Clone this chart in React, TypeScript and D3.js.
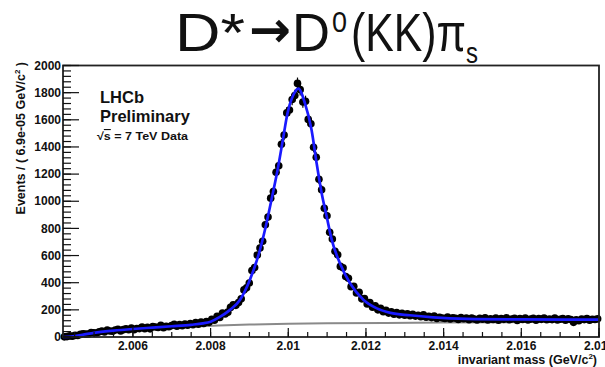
import React from 'react';
import * as d3 from 'd3';

// ---- data ----
const xMin = 2.0042;
const xMax = 2.018;
const nBins = 200;

const counts = [
  1, 3, 8, 6, 12, 11, 19, 24, 21, 22,
  33, 31, 29, 38, 43, 37, 51, 44, 42, 52,
  57, 45, 54, 61, 53, 66, 54, 63, 62, 73,
  61, 72, 60, 77, 74, 70, 87, 69, 78, 76,
  84, 93, 79, 91, 83, 96, 87, 100, 90, 106,
  94, 110, 99, 113, 108, 131, 124, 153, 144, 176,
  170, 183, 218, 238, 233, 254, 281, 347, 362, 398,
  489, 512, 604, 656, 705, 827, 884, 1023, 1071, 1213,
  1262, 1420, 1488, 1651, 1672, 1749, 1779, 1868, 1822, 1731,
  1736, 1603, 1571, 1398, 1324, 1162, 1085, 948, 893, 771,
  721, 631, 605, 520, 510, 446, 433, 371, 374, 325,
  329, 281, 283, 244, 253, 219, 229, 200, 212, 186,
  197, 176, 186, 168, 180, 163, 174, 160, 171, 156,
  168, 154, 160, 149, 163, 146, 152, 143, 155, 137,
  146, 140, 136, 147, 133, 142, 138, 129, 144, 134,
  139, 127, 140, 133, 126, 138, 131, 142, 125, 134,
  129, 139, 124, 136, 130, 141, 127, 133, 138, 122,
  135, 129, 140, 126, 132, 137, 124, 135, 130, 139,
  127, 133, 128, 140, 125, 131, 136, 123, 134, 129,
  108, 126, 120, 132, 128, 135, 124, 131, 129, 134,
];

const fitMass = [
  2.0042, 2.00441, 2.0047, 2.005, 2.0055, 2.006, 2.0065, 2.007, 2.0075, 2.0078,
  2.008, 2.00824, 2.0085, 2.00876, 2.00901, 2.00927, 2.00944, 2.00957, 2.00974, 2.00986,
  2.00998, 2.01013, 2.01026, 2.01043, 2.0106, 2.01073, 2.01086, 2.01099, 2.01112, 2.01133,
  2.01159, 2.01194, 2.01228, 2.01263, 2.01313, 2.01373, 2.0146, 2.016, 2.018,
];
const fitValue = [
  0, 3, 16, 31, 47, 59, 69, 79, 90, 100,
  113, 148, 200, 275, 420, 641, 840, 1015, 1255, 1451,
  1648, 1783, 1830, 1721, 1525, 1280, 1059, 886, 715, 543,
  396, 273, 211, 178, 160, 145, 134, 130, 128,
];

const bgMass = [
  2.0042, 2.00441, 2.0046, 2.0048, 2.0052, 2.0057, 2.0062, 2.0067, 2.0072, 2.0077,
  2.0082, 2.009, 2.01, 2.011, 2.0125, 2.014, 2.016, 2.018,
];
const bgValue = [
  0, 0, 10, 19, 31, 44, 55, 64, 72, 79,
  85, 92, 97, 101, 104, 107, 110, 113,
];

const yTicks = [0, 200, 400, 600, 800, 1000, 1200, 1400, 1600, 1800, 2000];
const yTickLabels = ['0', '200', '400', '600', '800', '1000', '1200', '1400', '1600', '1800', '2000'];
const xTicks = [2.006, 2.008, 2.01, 2.012, 2.014, 2.016, 2.018];
const xTickLabels = ['2.006', '2.008', '2.01', '2.012', '2.014', '2.016', '2.018'];

// ---- layout ----
const W = 605;
const H = 367;
const L = 63;
const R = 599;
const T = 65.5;
const B = 337;

const FONT = "'Liberation Sans', Arial, Helvetica, sans-serif";
const TFONT = "'Liberation Sans', Arial, sans-serif";

export default function App() {
  const x = d3.scaleLinear().domain([xMin, xMax]).range([L, R]);
  const y = d3.scaleLinear().domain([0, 2000]).range([B, T]);
  const binW = (xMax - xMin) / nBins;

  const line = d3
    .line<[number, number]>()
    .x((d) => x(d[0]))
    .y((d) => y(d[1]))
    .curve(d3.curveMonotoneX);

  const fitPath = line(fitMass.map((m, i) => [m, fitValue[i]] as [number, number])) || '';
  const bgPath = line(bgMass.map((m, i) => [m, bgValue[i]] as [number, number])) || '';

  const yMinor = d3.range(0, 2000.1, 40);
  const xMinor = d3.range(2.0045, xMax + 1e-9, 0.0005);

  return (
    <svg
      width={W}
      height={H}
      style={{ position: 'absolute', left: 0, top: 0, background: '#fff' }}
      xmlns="http://www.w3.org/2000/svg"
    >
      <rect x={0} y={0} width={W} height={H} fill="#fff" />

      {/* Title */}
      <g fontFamily={TFONT} fill="#111">
        <text x={175} y={51} fontSize={54} textLength={70} lengthAdjust="spacingAndGlyphs">D*</text>
        <text
          x={249}
          y={47}
          fontSize={50}
          fontWeight="bold"
          fontFamily="'DejaVu Sans', sans-serif"
          textLength={42}
          lengthAdjust="spacingAndGlyphs"
        >
          →
        </text>
        <text x={292} y={51} fontSize={54} textLength={38} lengthAdjust="spacingAndGlyphs">D</text>
        <text x={332} y={32} fontSize={30} textLength={15} lengthAdjust="spacingAndGlyphs">0</text>
        <text x={351} y={51} fontSize={54} textLength={115} lengthAdjust="spacingAndGlyphs">(KK)π</text>
        <text x={466} y={63} fontSize={30} textLength={12} lengthAdjust="spacingAndGlyphs">s</text>
      </g>

      {/* background component */}
      <path d={bgPath} fill="none" stroke="#8a8a8a" strokeWidth={2} />

      {/* data points */}
      <g>
        {counts.map((c, i) => {
          const m = xMin + (i + 0.5) * binW;
          const e = Math.sqrt(c);
          return (
            <g key={i}>
              <line x1={x(m)} x2={x(m)} y1={y(c - e)} y2={y(Math.min(c + e, 2000))} stroke="#000" strokeWidth={1.2} />
              <circle cx={x(m)} cy={y(c)} r={3.8} fill="#000" />
            </g>
          );
        })}
      </g>

      {/* fit */}
      <path d={fitPath} fill="none" stroke="#1a1aff" strokeWidth={2.7} />

      {/* frame */}
      <rect x={L} y={T} width={R - L} height={B - T} fill="none" stroke="#222" strokeWidth={1.8} />

      {/* y ticks */}
      <g>
        {yMinor.map((v, i) => (
          <line key={'ym' + i} x1={L} x2={L + 8} y1={y(v)} y2={y(v)} stroke="#111" strokeWidth={1.2} />
        ))}
        {yTicks.map((v, i) => (
          <g key={'yt' + i}>
            <line x1={L} x2={L + 16} y1={y(v)} y2={y(v)} stroke="#111" strokeWidth={1.2} />
            <text
              x={L - 2}
              y={y(v) + 4.2}
              textAnchor="end"
              fontFamily={FONT}
              fontWeight="bold"
              fontSize={12}
              fill="#111"
            >
              {yTickLabels[i]}
            </text>
          </g>
        ))}
      </g>

      {/* x ticks */}
      <g>
        {xMinor.map((v, i) => (
          <line key={'xm' + i} x1={x(v)} x2={x(v)} y1={B} y2={B - 5} stroke="#111" strokeWidth={1.2} />
        ))}
        {xTicks.map((v, i) => (
          <g key={'xt' + i}>
            <line x1={x(v)} x2={x(v)} y1={B} y2={B - 9} stroke="#111" strokeWidth={1.2} />
            <text
              x={x(v)}
              y={350}
              textAnchor="middle"
              fontFamily={FONT}
              fontWeight="bold"
              fontSize={12}
              fill="#111"
            >
              {xTickLabels[i]}
            </text>
          </g>
        ))}
      </g>

      {/* axis titles */}
      <text
        x={597}
        y={364}
        textAnchor="end"
        fontFamily={FONT}
        fontWeight="bold"
        fontSize={12.5}
        fill="#111"
      >
        invariant mass (GeV/c<tspan fontSize={8} dy={-5}>2</tspan>
        <tspan dy={5}>)</tspan>
      </text>
      <text
        transform="translate(24.5,62) rotate(-90)"
        textAnchor="end"
        fontFamily={FONT}
        fontWeight="bold"
        fontSize={12.5}
        fill="#111"
      >
        Events / ( 6.9e-05 GeV/c<tspan fontSize={8} dy={-5}>2</tspan>
        <tspan dy={5}> )</tspan>
      </text>

      {/* LHCb labels */}
      <text x={100} y={103} fontFamily={FONT} fontWeight="bold" fontSize={16.5} fill="#111">
        LHCb
      </text>
      <text x={100} y={121.5} fontFamily={FONT} fontWeight="bold" fontSize={16.5} fill="#111">
        Preliminary
      </text>
      <text
        x={97}
        y={140}
        fontFamily={FONT}
        fontWeight="bold"
        fontSize={11}
        fill="#111"
        textLength={91}
        lengthAdjust="spacingAndGlyphs"
      >
        √<tspan style={{ textDecoration: 'overline' }}>s</tspan> = 7 TeV Data
      </text>
    </svg>
  );
}
